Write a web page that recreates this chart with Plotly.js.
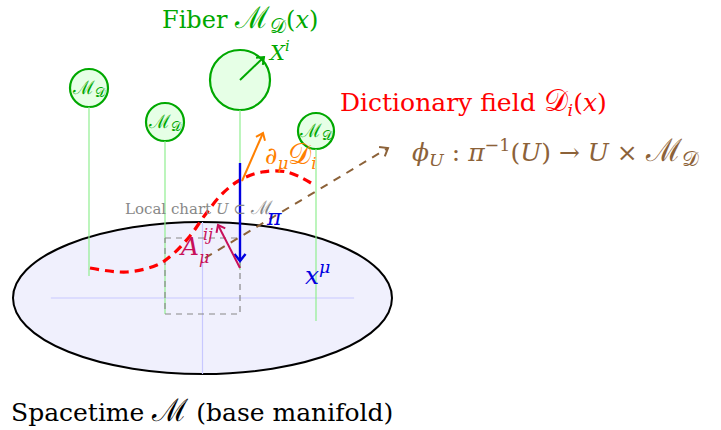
<!DOCTYPE html>
<html>
<head>
<meta charset="utf-8">
<script src="https://cdn.plot.ly/plotly-3.0.1.min.js"></script>
<style>html,body{margin:0;padding:0;background:#fff;}#chart{width:721px;height:430px;}</style>
</head>
<body>
<div id="chart"></div>
<script>
// ---- diagram data (in pixel units of the canvas) ----
const fiberX       = [89, 165, 240, 316];
const fiberCircleY = [88, 122, 80, 131];
const fiberRadius  = [19, 19, 30, 18];
const fiberBottomY = [276, 314, 270, 321];

const fieldCurveX = [90, 127, 157, 172, 190, 205, 222, 240, 262, 287, 311];
const fieldCurveY = [268, 272, 265, 255, 236, 215, 194, 180, 172, 172, 183];

const baseCenter = [202.5, 298];
const baseRadii  = [189.5, 76];
const chartRect  = [165, 238, 240, 314];   // x0, y0, x1, y1

const piArrow      = [240, 163, 240, 261];
const derivArrow   = [242, 181, 263, 133];
const connArrow    = [240, 268, 218, 225];
const trivArrow    = [205, 258, 388, 148];
const tangentArrow = [240, 80, 264, 57];

const COLORS = {
  green: '#00a800', greenFill: '#e6ffe6', fiberLine: '#90ee90',
  red: '#ff0000', orange: '#ff8000', blue: '#0000e0', crimson: '#c8105a',
  brown: '#8c6239', gray: '#888888', base: '#f0f0fd', axis: '#c8c8ff'
};
const FONT = '"DejaVu Serif"';

// ---- helpers ----
function line(xs, ys, color, width, dash, shape) {
  return {type: 'scatter', mode: 'lines', x: xs, y: ys, hoverinfo: 'skip',
          line: {color: color, width: width, dash: dash || 'solid', shape: shape || 'linear', smoothing: 1}};
}
function arrow(a, color, width, dash, headLen) {
  const [x0, y0, x1, y1] = a;
  const L = Math.hypot(x1 - x0, y1 - y0);
  const ux = (x1 - x0) / L, uy = (y1 - y0) / L;
  const h = headLen || 8, th = 38 * Math.PI / 180;
  const c = Math.cos(th), s = Math.sin(th);
  const p1 = [x1 - h * (ux * c - uy * s), y1 - h * (uy * c + ux * s)];
  const p2 = [x1 - h * (ux * c + uy * s), y1 - h * (uy * c - ux * s)];
  return [line([x0, x1], [y0, y1], color, width, dash),
          line([p1[0], x1, p2[0]], [p1[1], y1, p2[1]], color, width, 'solid')];
}

const traces = [];
traces.push(line([baseCenter[0] - 0.8 * baseRadii[0], baseCenter[0] + 0.8 * baseRadii[0]],
                 [baseCenter[1], baseCenter[1]], COLORS.axis, 1.2));
traces.push(line([baseCenter[0], baseCenter[0]],
                 [baseCenter[1] - baseRadii[1], baseCenter[1] + baseRadii[1]], COLORS.axis, 1.2));
for (let i = 0; i < fiberX.length; i++) {
  traces.push(line([fiberX[i], fiberX[i]], [fiberCircleY[i] + fiberRadius[i], fiberBottomY[i]], COLORS.fiberLine, 1.2));
}
traces.push(line([chartRect[0], chartRect[2], chartRect[2], chartRect[0], chartRect[0]],
                 [chartRect[1], chartRect[1], chartRect[3], chartRect[3], chartRect[1]], COLORS.gray, 1.2, '6px,5px'));
traces.push(line(fieldCurveX, fieldCurveY, COLORS.red, 3.2, '9px,6px', 'spline'));
traces.push(...arrow(trivArrow, COLORS.brown, 2, '8px,7px', 9));
traces.push(...arrow(piArrow, COLORS.blue, 2.4, 'solid', 9));
traces.push(...arrow(derivArrow, COLORS.orange, 2, 'solid', 8));
traces.push(...arrow(connArrow, COLORS.crimson, 2, 'solid', 8));
traces.push(...arrow(tangentArrow, COLORS.green, 2, 'solid', 8));

const shapes = [
  {type: 'circle', xref: 'x', yref: 'y', layer: 'below',
   x0: baseCenter[0] - baseRadii[0], x1: baseCenter[0] + baseRadii[0],
   y0: baseCenter[1] - baseRadii[1], y1: baseCenter[1] + baseRadii[1],
   fillcolor: COLORS.base, line: {color: '#000', width: 2}}
];
for (let i = 0; i < fiberX.length; i++) {
  shapes.push({type: 'circle', xref: 'x', yref: 'y', layer: 'below',
    x0: fiberX[i] - fiberRadius[i], x1: fiberX[i] + fiberRadius[i],
    y0: fiberCircleY[i] - fiberRadius[i], y1: fiberCircleY[i] + fiberRadius[i],
    fillcolor: COLORS.greenFill, line: {color: COLORS.green, width: 2.2}});
}

function txt(x, y, text, color, size, xanchor) {
  return {x: x, y: y, xref: 'x', yref: 'y', text: text, showarrow: false,
          xanchor: xanchor || 'center', yanchor: 'middle',
          font: {family: FONT, size: size, color: color}};
}
const SCRIPT_M = '<span style="font-size:125%">ℳ</span>';
const SCRIPT_D = '<span style="font-size:120%">𝒟</span>';
const MD = SCRIPT_M + '<sub>' + SCRIPT_D + '</sub>';
const annotations = [
  txt(240, 19, 'Fiber ' + MD + '(<i>x</i>)', COLORS.green, 24),
  txt(279, 51, '<i>X</i><sup><i>i</i></sup>', COLORS.green, 21),
  txt(473, 101, 'Dictionary field ' + SCRIPT_D + '<sub><i>i</i></sub>(<i>x</i>)', COLORS.red, 25),
  txt(410, 151, '<i>ϕ</i><sub><i>U</i></sub> : <i>π</i><sup>−1</sup>(<i>U</i>) → <i>U</i> × ' + MD, COLORS.brown, 25, 'left'),
  txt(263, 155, '∂<sub><i>μ</i></sub>' + SCRIPT_D + '<sub><i>i</i></sub>', COLORS.orange, 24, 'left'),
  txt(199, 207, 'Local chart <i>U</i> ⊂ ' + SCRIPT_M, COLORS.gray, 15),
  txt(274, 217, '<i>π</i>', COLORS.blue, 22),
  txt(189, 246, '<i>A</i>', COLORS.crimson, 25),
  txt(208, 234, '<i>ij</i>', COLORS.crimson, 16),
  txt(204, 257, '<i>μ</i>', COLORS.crimson, 16),
  txt(317, 273, '<i>x</i><sup><i>μ</i></sup>', COLORS.blue, 25),
  txt(202, 410, 'Spacetime ' + SCRIPT_M + ' (base manifold)', '#000', 25)
];
[0, 1, 3].forEach(i => annotations.push(txt(fiberX[i], fiberCircleY[i], MD, COLORS.green, 15)));

const layout = {
  width: 721, height: 430, margin: {l: 0, r: 0, t: 0, b: 0},
  paper_bgcolor: '#fff', plot_bgcolor: '#fff', showlegend: false,
  xaxis: {range: [0, 721], visible: false, fixedrange: true},
  yaxis: {range: [430, 0], visible: false, fixedrange: true},
  shapes: shapes, annotations: annotations
};
Plotly.newPlot('chart', traces, layout, {staticPlot: true, displayModeBar: false});
</script>
</body>
</html>
